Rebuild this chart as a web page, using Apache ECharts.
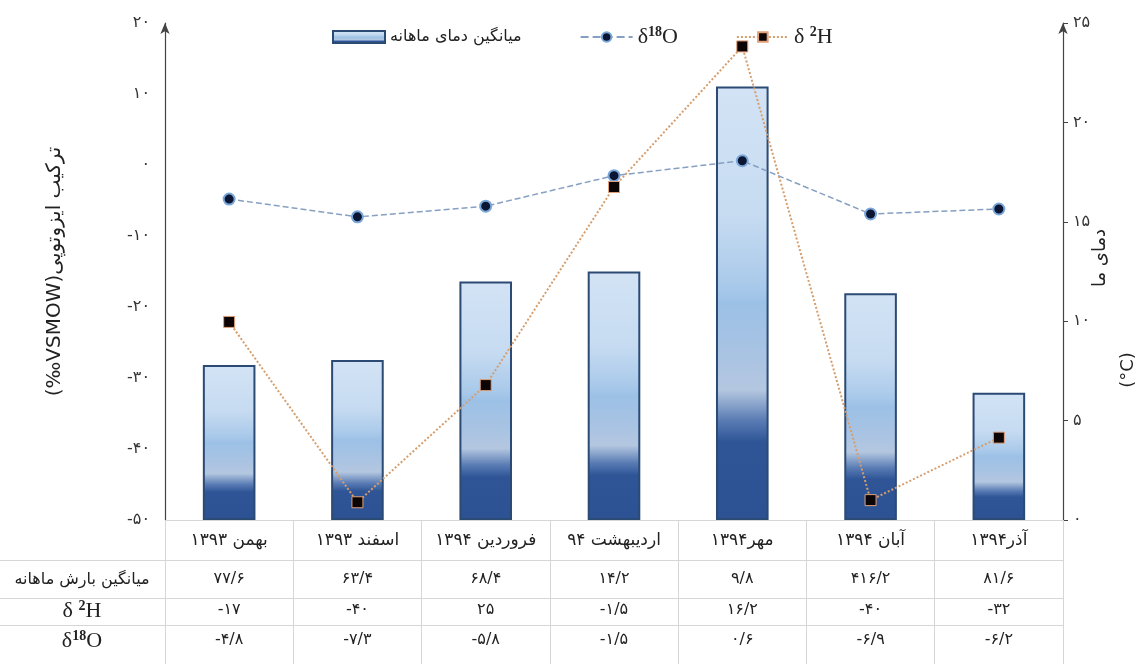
<!DOCTYPE html>
<html><head><meta charset="utf-8">
<script src="https://cdn.jsdelivr.net/npm/echarts/dist/echarts.min.js"></script>
<style>html,body{margin:0;padding:0;background:#fff}#c{width:1143px;height:664px}</style>
</head><body><div id="c"></div><script>
// ---- data ----
const categories = ['بهمن ۱۳۹۳', 'اسفند ۱۳۹۳', 'فروردین ۱۳۹۴', 'اردیبهشت ۹۴', 'مهر۱۳۹۴', 'آبان ۱۳۹۴', 'آذر۱۳۹۴'];
const temperature = [7.8, 8.05, 12.0, 12.5, 21.8, 11.4, 6.4];          // bars, right axis (°C)
const d18O = [-4.8, -7.3, -5.8, -1.5, 0.6, -6.9, -6.2];                // line, left axis
const d2HPlotted = [-22.1, -47.5, -31.0, -3.1, 16.7, -47.2, -38.4];    // line as drawn, left axis
const precipTable = [77.6, 63.4, 68.4, 14.2, 9.8, 416.2, 81.6];
const d2HTable = [-17, -40, 25, -1.5, 16.2, -40, -32];
const d18OTable = [-4.8, -7.3, -5.8, -1.5, 0.6, -6.9, -6.2];
const leftTicks = ['-۵۰', '-۴۰', '-۳۰', '-۲۰', '-۱۰', '۰', '۱۰', '۲۰'];
const rightTicks = ['۰', '۵', '۱۰', '۱۵', '۲۰', '۲۵'];
const rowHeaders = ['میانگین بارش ماهانه', 'δ²H', 'δ¹⁸O'];
const seriesNames = ['میانگین دمای ماهانه', 'δ¹⁸O', 'δ²H'];
const leftAxisName = '(‰VSMOW)ترکیب ایزوتوپی';
const rightAxisName = ['دمای ما', '(°C)'];

const fa = s => String(s).replace(/[0-9]/g, d => '۰۱۲۳۴۵۶۷۸۹'[d]);
const faNum = v => fa(String(v).replace('.', '/'));

const FA_FONT = 'DejaVu Sans';
const SERIF = 'Liberation Serif';
const gridLine = '#d6d6d6';

// rich-text forms of the isotope symbols (superscript mass numbers)
const richIso = {
  'δ¹⁸O': '{d|δ}{s|18}{d|O}',
  'δ²H': '{d|δ }{s|2}{d|H}'
};
const isoRich = {
  d: {fontFamily: SERIF, fontSize: 22, lineHeight: 24, color: '#222'},
  s: {fontFamily: SERIF, fontSize: 14, fontWeight: 'bold', lineHeight: 15, verticalAlign: 'top', color: '#222'}
};

const chart = echarts.init(document.getElementById('c'), null, {renderer: 'canvas'});

const barGradient = new echarts.graphic.LinearGradient(0, 0, 0, 1, [
  {offset: 0, color: '#d3e3f5'},
  {offset: 0.3, color: '#c6dbf1'},
  {offset: 0.46, color: '#a9c9ea'},
  {offset: 0.5, color: '#9cc1e6'},
  {offset: 0.62, color: '#a9c3e3'},
  {offset: 0.7, color: '#b4c7e0'},
  {offset: 0.77, color: '#5a7cb4'},
  {offset: 0.82, color: '#2f5597'},
  {offset: 1, color: '#2c5293'}
]);

function tableAxis(data, offset, margin) {
  return {
    type: 'category', gridIndex: 0, position: 'bottom', offset: offset,
    data: data,
    axisLine: {show: true, onZero: false, lineStyle: {color: gridLine, width: 1}},
    axisTick: {show: false},
    axisLabel: {margin: margin, fontFamily: FA_FONT, fontSize: 16, color: '#222', interval: 0}
  };
}

const option = {
  backgroundColor: '#fff',
  animation: false,
  grid: {left: 165, right: 80, top: 23, bottom: 144},
  legend: {
    left: 327, top: 20, itemWidth: 52, itemHeight: 12, itemGap: 58,
    textStyle: {fontFamily: FA_FONT, fontSize: 16, color: '#222', rich: isoRich},
    formatter: name => richIso[name] || name,
    data: [
      {name: seriesNames[0], icon: 'rect'},
      {name: seriesNames[1]},
      {name: seriesNames[2]}
    ]
  },
  xAxis: [
    {
      type: 'category', gridIndex: 0, position: 'bottom', data: categories,
      axisLine: {show: true, onZero: false, lineStyle: {color: gridLine, width: 1}},
      axisTick: {show: true, length: 144, lineStyle: {color: gridLine, width: 1}},
      axisLabel: {margin: 12, fontFamily: FA_FONT, fontSize: 17, color: '#222', interval: 0},
      splitLine: {show: false}
    },
    tableAxis(precipTable.map(faNum), 40, 11),
    tableAxis(d2HTable.map(faNum), 78, 4),
    tableAxis(d18OTable.map(faNum), 105, 7)
  ],
  yAxis: [
    {
      type: 'value', position: 'left', min: -50, max: 20, interval: 10,
      axisLine: {show: true, onZero: false, symbol: ['none', 'arrow'], symbolSize: [7, 11], lineStyle: {color: '#444', width: 1.2}},
      axisTick: {show: false},
      splitLine: {show: false},
      axisLabel: {margin: 15, fontFamily: FA_FONT, fontSize: 16, color: '#333',
        formatter: (v, i) => leftTicks[i]},
      name: leftAxisName, nameLocation: 'middle', nameRotate: 90, nameGap: 100,
      nameTextStyle: {fontFamily: FA_FONT, fontSize: 20, color: '#222'}
    },
    {
      type: 'value', position: 'right', min: 0, max: 25, interval: 5,
      axisLine: {show: true, onZero: false, symbol: ['none', 'arrow'], symbolSize: [7, 11], lineStyle: {color: '#444', width: 1.2}},
      axisTick: {show: true, length: 5, lineStyle: {color: '#444'}},
      splitLine: {show: false},
      axisLabel: {margin: 10, fontFamily: FA_FONT, fontSize: 16, color: '#333',
        formatter: (v, i) => rightTicks[i]}
    }
  ],
  graphic: [
    {type: 'line', shape: {x1: 0, y1: 560.5, x2: 165, y2: 560.5}, style: {stroke: gridLine, lineWidth: 1}},
    {type: 'line', shape: {x1: 0, y1: 598.5, x2: 165, y2: 598.5}, style: {stroke: gridLine, lineWidth: 1}},
    {type: 'line', shape: {x1: 0, y1: 625.5, x2: 165, y2: 625.5}, style: {stroke: gridLine, lineWidth: 1}},
    {type: 'text', x: 82, y: 580, style: {text: rowHeaders[0], align: 'center', verticalAlign: 'middle', fontFamily: FA_FONT, fontSize: 16, fill: '#222'}},
    {type: 'text', x: 82, y: 611, style: {text: richIso[rowHeaders[1]], rich: isoRich, align: 'center', verticalAlign: 'middle', fontFamily: SERIF, fontSize: 22, fill: '#222'}},
    {type: 'text', x: 82, y: 641, style: {text: richIso[rowHeaders[2]], rich: isoRich, align: 'center', verticalAlign: 'middle', fontFamily: SERIF, fontSize: 22, fill: '#222'}},
    {type: 'text', x: 1100, y: 258, rotation: Math.PI / 2, style: {text: rightAxisName[0], align: 'center', verticalAlign: 'middle', fontFamily: FA_FONT, fontSize: 18, fill: '#222'}},
    {type: 'text', x: 1128, y: 370, rotation: Math.PI / 2, style: {text: rightAxisName[1], align: 'center', verticalAlign: 'middle', fontFamily: FA_FONT, fontSize: 18, fill: '#222'}}
  ],
  series: [
    {
      name: seriesNames[0], type: 'bar', xAxisIndex: 0, yAxisIndex: 1,
      data: temperature, barWidth: '41%',
      itemStyle: {color: barGradient, borderColor: '#2b4a74', borderWidth: 2},
      z: 2
    },
    {
      name: seriesNames[1], type: 'line', xAxisIndex: 0, yAxisIndex: 0,
      data: d18O, symbol: 'circle', symbolSize: 11,
      lineStyle: {type: 'dashed', color: '#86a0c2', width: 1.5},
      itemStyle: {color: '#0a1633', borderColor: '#7aa6d8', borderWidth: 2},
      z: 3
    },
    {
      name: seriesNames[2], type: 'line', xAxisIndex: 0, yAxisIndex: 0,
      data: d2HPlotted, symbol: 'rect', symbolSize: 11,
      lineStyle: {type: 'dotted', color: '#d69d6c', width: 2},
      itemStyle: {color: '#0b0505', borderColor: '#e2a07a', borderWidth: 1},
      z: 4
    }
  ]
};
chart.setOption(option);
</script></body></html>
